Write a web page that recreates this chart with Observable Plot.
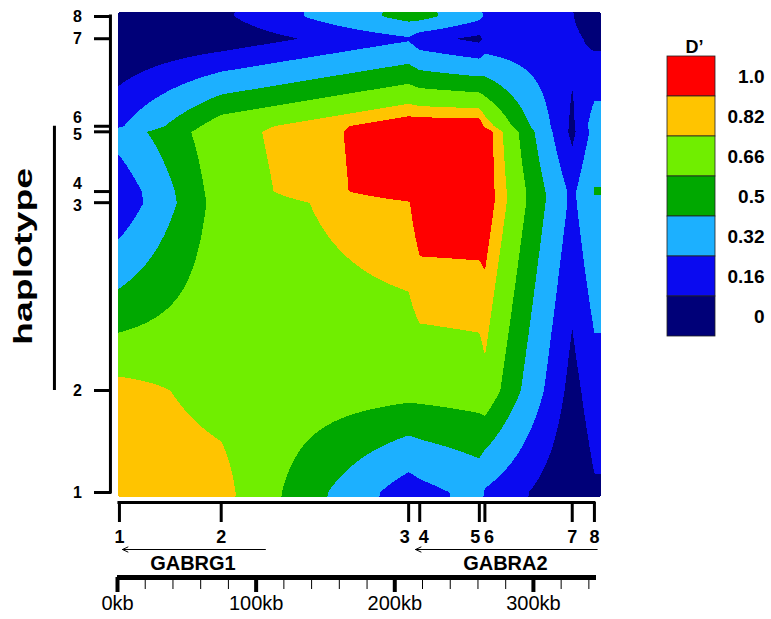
<!DOCTYPE html>
<html><head><meta charset="utf-8">
<script src="https://cdn.jsdelivr.net/npm/d3@7"></script>
<script src="https://cdn.jsdelivr.net/npm/@observablehq/plot@0.6"></script>
<style>
body{margin:0;background:#fff;}
#wrap{position:relative;width:771px;height:619px;background:#fff;font-family:"Liberation Sans",Arial,sans-serif;}
#wrap svg{position:absolute;overflow:visible;}
</style></head><body><div id="wrap"></div>
<script>
// SNPs (marker number and physical position in kb)
const snpLabels = ["1","2","3","4","5","6","7","8"];
const snpPosKb = [1.4, 74.8, 210, 218, 261, 265, 328, 344];
// D' values, one array per haplotype SNP (row 1 = bottom), columns = SNP 1..8
const dRow1 = [0.90, 0.87, 0.22, 0.26, 0.38, 0.30, 0.02, 0.14];
const dRow2 = [0.87, 0.77, 0.72, 0.72, 0.74, 0.78, 0.10, 0.25];
const dRow3 = [0.19, 0.74, 0.91, 1.00, 1.00, 1.00, 0.28, 0.48];
const dRow4 = [0.20, 0.75, 1.00, 1.00, 1.00, 1.00, 0.28, 0.51];
const dRow5 = [0.40, 0.77, 1.00, 1.00, 1.00, 1.00, 0.12, 0.38];
const dRow6 = [0.30, 0.75, 1.00, 1.00, 1.00, 0.90, 0.13, 0.40];
const dRow7 = [0.00, 0.06, 0.30, 0.22, 0.12, 0.20, 0.20, 0.12];
const dRow8 = [0.03, 0.13, 0.56, 0.56, 0.36, 0.30, 0.17, 0.03];
// colour bands
const bandThresholds = [0.16, 0.32, 0.5, 0.66, 0.82, 0.92];
const bandColors = ["#000078", "#0a0af0", "#1cb0ff", "#00a800", "#70ee00", "#ffc400", "#ff0000"];
const legendLabels = ["1.0", "0.82", "0.66", "0.5", "0.32", "0.16", "0"];
// genes (start -> end in kb, transcribed leftwards)
const geneNames = ["GABRG1", "GABRA2"];
const geneFrom = [106.7, 346];
const geneTo = [3.6, 215];
// haplotype block (SNP labels)
const haploBlock = ["2", "6"];
// kb scale
const kbMajor = [0, 100, 200, 300];
const kbMinor = [20, 40, 60, 80, 120, 140, 160, 180, 220, 240, 260, 280, 320, 340];
const kbEnd = 345.5;

const grid = [dRow1, dRow2, dRow3, dRow4, dRow5, dRow6, dRow7, dRow8];
function seg(p) {
  const n = snpPosKb.length;
  if (p <= snpPosKb[0]) return [0, 0];
  if (p >= snpPosKb[n - 1]) return [n - 2, 1];
  let i = 0;
  while (p > snpPosKb[i + 1]) i++;
  return [i, (p - snpPosKb[i]) / (snpPosKb[i + 1] - snpPosKb[i])];
}
function dprime(x, y) {
  const [i, tx] = seg(x), [j, ty] = seg(y);
  const a = grid[j][i], b = grid[j][i + 1], c = grid[j + 1][i], d = grid[j + 1][i + 1];
  return (a * (1 - tx) + b * tx) * (1 - ty) + (c * (1 - tx) + d * tx) * ty;
}

const snps = snpLabels.map((label, i) => {
  const prevClose = i > 0 && snpPosKb[i] - snpPosKb[i - 1] < 15;
  const nextClose = i < snpLabels.length - 1 && snpPosKb[i + 1] - snpPosKb[i] < 15;
  return {label, pos: snpPosKb[i], side: nextClose ? -1 : prevClose ? 1 : 0};
});
const genes = geneNames.map((name, i) => ({name, from: geneFrom[i], to: geneTo[i], mid: (geneFrom[i] + geneTo[i]) / 2}));
const pos0 = snpPosKb[0];
const blockY1 = snpPosKb[snpLabels.indexOf(haploBlock[0])];
const blockY2 = snpPosKb[snpLabels.indexOf(haploBlock[1])];

const W = 771, H = 619;
const font = "Liberation Sans, Arial, sans-serif";
const yLab = {x: pos0, y: "pos", text: "label", dx: -42, fontSize: 16, fontWeight: "bold"};
const xLab = {x: "pos", y: pos0, text: "label", dy: 45, fontSize: 18, fontWeight: "bold"};
const main = Plot.plot({
  width: W, height: H,
  marginLeft: 117, marginRight: W - 596, marginTop: 16, marginBottom: H - 492,
  x: {domain: [0, kbEnd], label: null},
  y: {domain: [pos0, snpPosKb[7]], label: null},
  color: {type: "threshold", domain: bandThresholds, range: bandColors},
  style: {fontFamily: font, background: "white", overflow: "visible", color: "black"},
  marks: [
    Plot.contour({
      fill: dprime, x1: 0.7, x2: 348.6, y1: -1.5, y2: 347,
      thresholds: [-1, ...bandThresholds], pixelSize: 1, stroke: "none", shapeRendering: "crispEdges"
    }),
    // left (haplotype) axis
    Plot.ruleX([pos0], {y1: pos0, y2: snpPosKb[7], dx: -9, strokeWidth: 3, strokeLinecap: "square"}),
    Plot.axisY({ticks: snpPosKb, tickFormat: () => "", label: null, tickSize: 17, strokeWidth: 3, dx: -6}),
    Plot.text(snps, {...yLab, filter: d => d.side === 0}),
    Plot.text(snps, {...yLab, filter: d => d.side === -1, dy: 3}),
    Plot.text(snps, {...yLab, filter: d => d.side === 1, dy: -8}),
    Plot.ruleX([pos0], {y1: blockY1, y2: blockY2, dx: -65, strokeWidth: 3}),
    Plot.text(["haplotype"], {x: pos0, y: (blockY1 + blockY2) / 2, dx: -95, dy: -2, rotate: -90, fontSize: 25, fontWeight: "bold"}),
    // bottom SNP axis
    Plot.ruleY([pos0], {x1: pos0, x2: snpPosKb[7], dy: 10, strokeWidth: 3, strokeLinecap: "square"}),
    Plot.axisX({ticks: snpPosKb, tickFormat: () => "", label: null, tickSize: 20, strokeWidth: 3, dy: 10}),
    Plot.text(snps, {...xLab, filter: d => d.side === 0}),
    Plot.text(snps, {...xLab, filter: d => d.side === -1, dx: -4}),
    Plot.text(snps, {...xLab, filter: d => d.side === 1, dx: 4}),
    // genes
    Plot.arrow(genes, {x1: "from", x2: "to", y1: pos0, y2: pos0, dy: 57, strokeWidth: 1, headLength: 9, headAngle: 50}),
    Plot.text(genes, {x: "mid", y: pos0, text: "name", dy: 71, dx: -1, fontSize: 20, fontWeight: "bold"}),
    // kb scale
    Plot.ruleY([pos0], {x1: 0, x2: kbEnd, dy: 85, strokeWidth: 5}),
    Plot.axisX({ticks: kbMinor, tickFormat: () => "", label: null, tickSize: 12, strokeWidth: 1, dy: 85}),
    Plot.axisX({ticks: kbMajor, tickFormat: d => d + "kb", label: null, tickSize: 15, tickPadding: 3, strokeWidth: 4, dy: 85, fontSize: 20})
  ]
});
main.style.left = "0px";
main.style.top = "0px";
// the reference draws the axis title horizontally stretched
d3.select(main).selectAll("text").filter(function() { return this.textContent === "haplotype"; })
  .each(function() {
    const t = this.getAttribute("transform") || "";
    this.setAttribute("transform", t + " scale(1.5,1)");
  });
document.getElementById("wrap").appendChild(main);

const legend = Plot.plot({
  width: 111, height: 320,
  marginLeft: 7, marginRight: 56, marginTop: 34, marginBottom: 320 - 34 - 283,
  y: {domain: legendLabels, padding: 0, axis: null},
  color: {type: "ordinal", domain: legendLabels, range: bandColors.slice().reverse()},
  style: {fontFamily: font, background: "transparent", overflow: "visible", color: "black"},
  marks: [
    Plot.cell(legendLabels, {y: d => d, fill: d => d, stroke: "#222", strokeWidth: 0.8}),
    Plot.text(legendLabels, {y: d => d, text: d => d, frameAnchor: "right", dx: 49, textAnchor: "end", fontSize: 19, fontWeight: "bold"}),
    Plot.text(["D\u2019"], {frameAnchor: "top", dx: 3, dy: -14, fontSize: 18, fontWeight: "bold"})
  ]
});
legend.style.left = "660px";
legend.style.top = "20px";
document.getElementById("wrap").appendChild(legend);
</script></body></html>
